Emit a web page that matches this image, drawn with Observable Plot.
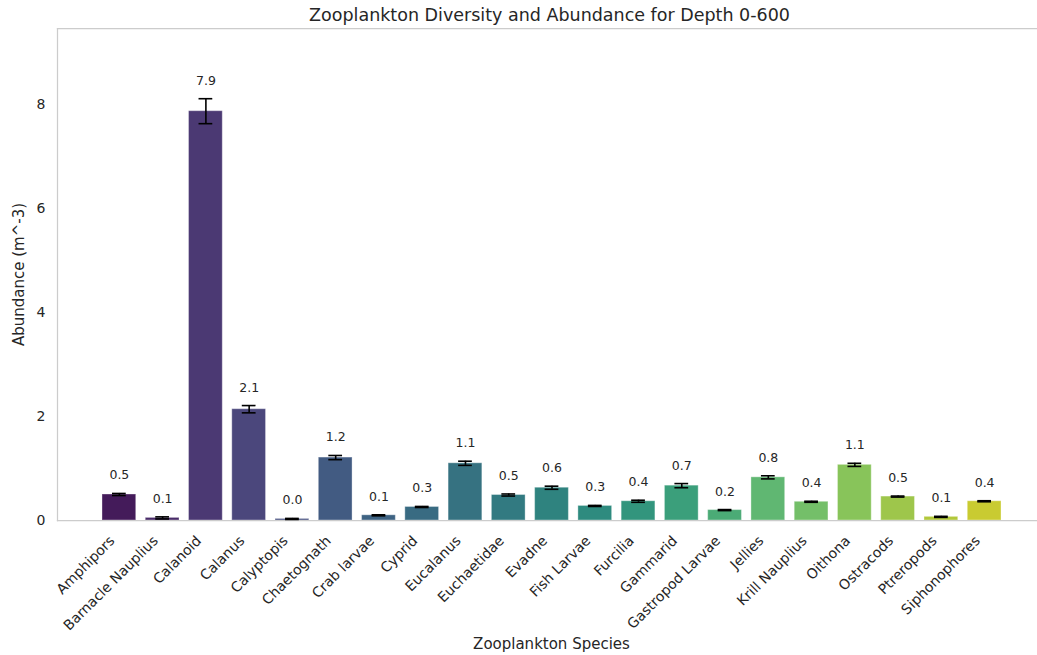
<!DOCTYPE html>
<html>
<head>
<meta charset="utf-8">
<script src="https://cdn.jsdelivr.net/npm/d3@7"></script>
<script src="https://cdn.jsdelivr.net/npm/@observablehq/plot@0.6"></script>
<style>
  html, body { margin: 0; padding: 0; background: #fff; overflow: hidden; }
  #chart svg { display: block; }
</style>
</head>
<body>
<div id="chart"></div>
<script>
const species = ["Amphipors", "Barnacle Nauplius", "Calanoid", "Calanus", "Calyptopis", "Chaetognath", "Crab larvae", "Cyprid", "Eucalanus", "Euchaetidae", "Evadne", "Fish Larvae", "Furcilia", "Gammarid", "Gastropod Larvae", "Jellies", "Krill Nauplius", "Oithona", "Ostracods", "Ptreropods", "Siphonophores"];
const abundance = [0.50, 0.05, 7.87, 2.14, 0.03, 1.21, 0.10, 0.26, 1.10, 0.49, 0.63, 0.28, 0.37, 0.67, 0.20, 0.83, 0.36, 1.07, 0.46, 0.07, 0.37];
const errors = [0.02, 0.02, 0.24, 0.07, 0.01, 0.04, 0.01, 0.01, 0.04, 0.02, 0.03, 0.01, 0.02, 0.04, 0.01, 0.03, 0.01, 0.03, 0.01, 0.01, 0.01];
const yTicks = [0, 2, 4, 6, 8];

const data = species.map((s, i) => ({species: s, value: abundance[i], err: errors[i],
  lo: abundance[i] - errors[i], hi: abundance[i] + errors[i]}));

// seaborn-like viridis palette, desaturated 0.75
const n = species.length;
const colors = species.map((_, i) => {
  const c = d3.hsl(d3.interpolateViridis((i + 1) / (n + 1)));
  c.s *= 0.75;
  return c.formatHex();
});

const ink = "#262626";
const font = "DejaVu Sans, sans-serif";
const spine = {stroke: "#cccccc", strokeWidth: 1.25};

const chart = Plot.plot({
  width: 1037,
  height: 655,
  marginTop: 28,
  marginBottom: 135,
  marginLeft: 57,
  marginRight: 0,
  style: {fontFamily: font, background: "#fff", color: ink},
  x: {domain: species, range: [57, 1046], round: false, paddingInner: 0.22, paddingOuter: 1.04, label: null},
  y: {domain: [0, 9.46], label: null},
  color: {domain: species, range: colors},
  marks: [
    Plot.barY(data, {x: "species", y: "value", fill: "species", stroke: "white", strokeOpacity: 0.35, strokeWidth: 1}),
    Plot.frame({anchor: "top", ...spine}),
    Plot.frame({anchor: "left", ...spine}),
    Plot.frame({anchor: "bottom", ...spine}),
    Plot.ruleX(data, {x: "species", y1: "lo", y2: "hi", stroke: "black", strokeWidth: 1.6}),
    Plot.tickY(data, {x: "species", y: "lo", stroke: "black", strokeWidth: 1.6, insetLeft: 10, insetRight: 10}),
    Plot.tickY(data, {x: "species", y: "hi", stroke: "black", strokeWidth: 1.6, insetLeft: 10, insetRight: 10}),
    Plot.text(data, {x: "species", y: "hi", text: d => d.value.toFixed(1), dy: -18, fontSize: 12.5, fill: ink}),
    Plot.axisY({ticks: yTicks, tickSize: 0, tickPadding: 12, fontSize: 14, label: null, tickFormat: d => String(d)}),
    Plot.axisX({tickSize: 0, tickRotate: -45, fontSize: 14, tickPadding: 18, dx: -7, label: null}),
    Plot.text(["Abundance (m^-3)"], {frameAnchor: "left", textAnchor: "middle", lineAnchor: "middle", dx: -38, rotate: -90, fontSize: 15, fill: ink}),
    Plot.text(["Zooplankton Species"], {frameAnchor: "bottom", lineAnchor: "middle", dx: 4, dy: 124, fontSize: 15, fill: ink}),
    Plot.text(["Zooplankton Diversity and Abundance for Depth 0-600"], {frameAnchor: "top", lineAnchor: "middle", dx: 2, dy: -13, fontSize: 17.5, fill: ink})
  ]
});
document.getElementById("chart").appendChild(chart);
</script>
</body>
</html>
